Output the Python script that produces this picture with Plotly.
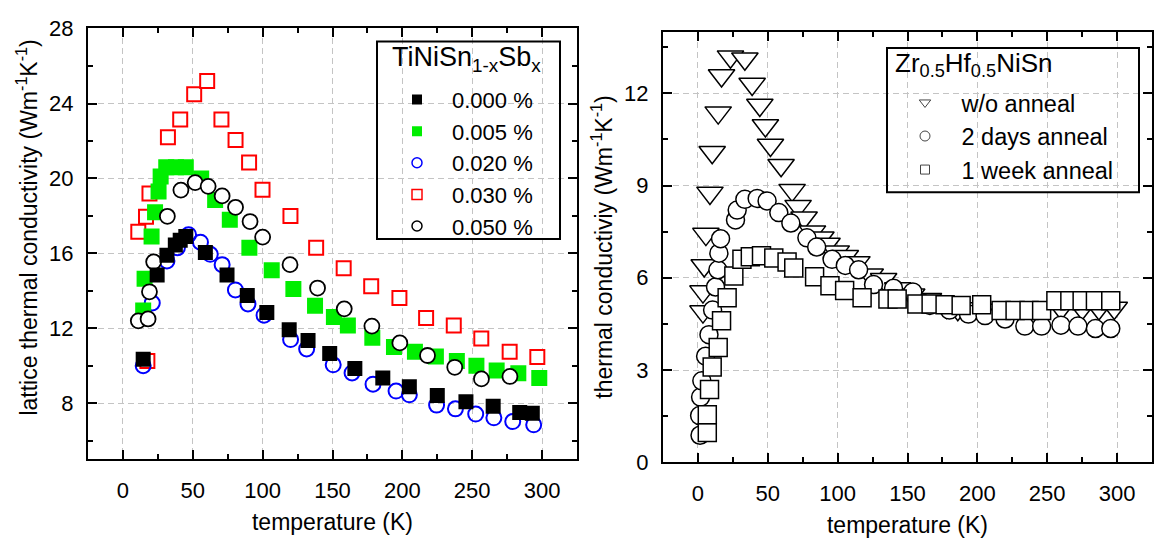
import plotly.graph_objects as go

# ---------------- data: left panel (TiNiSn1-xSbx) ----------------
T_000 = [14.5, 24.5, 31.5, 37.5, 41, 45, 59, 74.5, 89, 103, 119, 132.5, 148, 166, 186, 205, 225, 245.5, 265, 284, 293]
k_000 = [10.35, 14.85, 15.9, 16.45, 16.7, 16.9, 16.05, 14.85, 13.75, 12.85, 11.92, 11.35, 10.65, 9.86, 9.35, 8.88, 8.42, 8.08, 7.84, 7.5, 7.47]

T_005 = [14.5, 15.5, 20.5, 23, 25.5, 27, 31, 38, 45, 56, 66, 76.5, 90.5, 106.5, 122, 137.5, 151, 161, 178.5, 194, 209, 224, 239, 253, 267.5, 283, 298]
k_005 = [12.95, 14.65, 16.9, 18.2, 19.3, 20.1, 20.6, 20.6, 20.6, 20.0, 18.85, 17.8, 16.3, 15.1, 14.1, 13.2, 12.6, 12.15, 11.5, 11.0, 10.75, 10.5, 10.25, 10.0, 9.75, 9.6, 9.35]

T_020 = [14.5, 21, 31.5, 39, 47, 55.5, 62.5, 71, 80.5, 89.5, 101, 120, 131.5, 150.5, 164, 179, 195.5, 205, 224.5, 238, 252.5, 265.5, 279, 294]
k_020 = [10.0, 13.35, 15.6, 16.3, 17.0, 16.6, 15.95, 15.4, 14.05, 13.3, 12.7, 11.4, 10.9, 10.05, 9.62, 9.02, 8.65, 8.45, 7.9, 7.7, 7.42, 7.22, 7.02, 6.85]

T_030 = [11, 16.5, 17.5, 19, 32.2, 41, 51, 60.3, 70.5, 80.6, 90.3, 99.9, 119.9, 138.3, 158, 177.7, 197.9, 217, 236.8, 256.5, 276.8, 296.6]
k_030 = [17.15, 17.95, 10.25, 19.2, 22.2, 23.15, 24.5, 25.2, 23.15, 22.05, 20.85, 19.4, 18.0, 16.3, 15.2, 14.25, 13.62, 12.55, 12.15, 11.45, 10.75, 10.47]

T_050 = [11, 18, 19, 22, 31.8, 41.5, 51.7, 61, 71, 80.6, 91, 100, 119.6, 139.3, 158.4, 178.2, 198.2, 218, 237.5, 256.6, 277]
k_050 = [12.4, 12.5, 13.95, 15.55, 17.98, 19.38, 19.78, 19.58, 19.07, 18.46, 17.7, 16.87, 15.4, 14.15, 13.04, 12.12, 11.22, 10.55, 9.92, 9.3, 9.43]

left_labels = ["0.000 %", "0.005 %", "0.020 %", "0.030 %", "0.050 %"]
left_legend_title = "TiNiSn<sub>1-x</sub>Sb<sub>x</sub>"

# ---------------- data: right panel (Zr0.5Hf0.5NiSn) ----------------
T_wo = [3.6, 3.6, 4.5, 5.7, 8.6, 10.2, 14.5, 16.9, 23.3, 33.6, 38.8, 44.3, 48.3, 51.9, 59.5, 67.4, 71.7, 76, 82, 88,
        92.4, 99, 105.5, 113.8, 123.3, 132.9, 143, 153, 165, 178, 186, 200, 215, 230, 245, 260, 275, 287, 298]
k_wo = [4.9, 5.55, 6.4, 7.42, 8.76, 10.08, 11.37, 12.58, 13.19, 13.12, 12.3, 11.62, 10.95, 10.32, 9.66, 8.85, 8.33, 7.95, 7.5, 7.3,
        7.1, 6.85, 6.7, 6.5, 6.1, 5.95, 5.65, 5.45, 5.3, 5.05, 4.98, 5.0, 4.95, 4.95, 4.95, 5.0, 5.0, 5.0, 5.02]

T_2d = [1.5, 1.2, 1.9, 2.8, 5.5, 7.9, 10.5, 12.6, 14.3, 15, 16.2, 26.9, 28.1, 33.6, 42.4, 49.5, 57.9, 66.5, 78, 85,
        96, 105.5, 115, 125.7, 140, 153.8, 166, 180, 193.6, 205.5, 219.8, 234, 246, 259.8, 272, 284.5, 295.5]
k_2d = [0.88, 1.52, 2.12, 2.65, 3.45, 4.15, 4.95, 5.7, 6.26, 6.8, 7.27, 7.88, 8.2, 8.55, 8.58, 8.5, 8.12, 7.78, 7.3, 7.0,
        6.6, 6.4, 6.26, 5.78, 5.66, 5.54, 5.1, 4.95, 4.82, 4.77, 4.66, 4.43, 4.43, 4.46, 4.43, 4.35, 4.35]

T_1w = [6.7, 6.7, 8.3, 10.2, 14.5, 16.9, 20.9, 25.7, 31.5, 37.5, 45.5, 54.3, 63.8, 68.6, 83.5, 94.5, 105, 117.5, 136, 142.6,
        156.7, 166.9, 176.9, 188.4, 203.1, 217, 227, 237, 246, 256.2, 266.2, 275, 284.5, 295.5]
k_1w = [0.97, 1.55, 2.37, 3.1, 3.73, 4.6, 5.35, 6.06, 6.6, 6.68, 6.72, 6.64, 6.51, 6.32, 6.03, 5.74, 5.59, 5.35, 5.31, 5.31,
        5.15, 5.15, 5.12, 5.1, 5.12, 4.94, 4.94, 4.94, 4.94, 5.25, 5.25, 5.25, 5.25, 5.25]

right_labels = ["w/o anneal", "2 days anneal", "1 week anneal"]
right_legend_title = "Zr<sub>0.5</sub>Hf<sub>0.5</sub>NiSn"

FONT = "Liberation Sans, Arial, sans-serif"
W, H = 1154, 544

fig = go.Figure()

def add(x, y, name, symbol, size, fill, line_color, line_w, xa, ya, legend, lsize):
    fig.add_trace(go.Scatter(x=x, y=y, mode="markers", name=name, showlegend=False,
                             marker=dict(symbol=symbol, size=size, color=fill,
                                         line=dict(color=line_color, width=line_w)),
                             xaxis=xa, yaxis=ya))
    return (name, symbol, lsize, fill, line_color, line_w, xa, ya, legend)

# left panel, drawing order chosen to match overlaps
leg_red = add(T_030, k_030, left_labels[3], "square", 14, "white", "#ff0000", 2, "x", "y", "legend", 10)
leg_blue = add(T_020, k_020, left_labels[2], "circle", 15, "rgba(0,0,0,0)", "#0000ff", 2, "x", "y", "legend", 10)
leg_green = add(T_005, k_005, left_labels[1], "square", 16, "#00ee00", "#00ee00", 0, "x", "y", "legend", 10)
leg_bc = add(T_050, k_050, left_labels[4], "circle", 15, "white", "black", 1.8, "x", "y", "legend", 10)
leg_bs = add(T_000, k_000, left_labels[0], "square", 15, "black", "black", 0, "x", "y", "legend", 10)
leg_items = [leg_bs, leg_green, leg_blue, leg_red, leg_bc]

# right panel
r1 = add(T_wo, k_wo, right_labels[0], "triangle-down", 23, "white", "black", 1.5, "x2", "y2", "legend2", 10)
r2 = add(T_2d, k_2d, right_labels[1], "circle", 18, "white", "black", 1.5, "x2", "y2", "legend2", 10)
r3 = add(T_1w, k_1w, right_labels[2], "square", 18, "white", "black", 1.5, "x2", "y2", "legend2", 9)
leg_items += [r1, r2, r3]

# legend-only entries with small symbols
for (name, symbol, lsize, fill, lc, lw, xa, ya, legend) in leg_items:
    if legend == "legend2":
        lc2, lw2 = "#444444", 1
    else:
        lc2, lw2 = lc, min(lw, 1.5)
    fig.add_trace(go.Scatter(x=[None], y=[None], mode="markers", name=name, legend=legend,
                             marker=dict(symbol=symbol, size=lsize, color=fill,
                                         line=dict(color=lc2, width=lw2)),
                             xaxis=xa, yaxis=ya))

grid = dict(showgrid=True, gridcolor="#c4c4c4", gridwidth=1, griddash="6px,4px",
            zeroline=False, showline=True, linecolor="black", linewidth=2, mirror="allticks",
            ticks="inside", ticklen=9, tickwidth=2, tickcolor="black",
            tickfont=dict(family=FONT, size=22, color="black"))


def px_x(p):
    return p / W


def px_y(p):
    return 1 - p / H


def minor(d):
    return dict(ticks="inside", ticklen=5, tickwidth=2, tickcolor="black", dtick=d, tick0=0, showgrid=False)


TITLE_FONT = dict(family=FONT, size=23, color="black")

fig.update_layout(
    width=W, height=H, margin=dict(l=0, r=0, t=0, b=0),
    plot_bgcolor="white", paper_bgcolor="white",
    font=dict(family=FONT, color="black"),
    xaxis=dict(domain=[px_x(88), px_x(577)], range=[-25, 325], tick0=0, dtick=50, minor=minor(25),
               title=dict(text="temperature (K)", font=TITLE_FONT, standoff=12),
               ticklabelstandoff=10, anchor="y", **grid),
    yaxis=dict(domain=[px_y(469), px_y(17)], range=[5, 28.02], tick0=0, dtick=4, minor=minor(2),
               ticklabelstandoff=8, anchor="x", **grid),
    xaxis2=dict(domain=[px_x(663), px_x(1152)], range=[-25, 325], tick0=0, dtick=50, minor=minor(25),
                title=dict(text="temperature (K)", font=TITLE_FONT, standoff=12),
                ticklabelstandoff=10, anchor="y2", **grid),
    yaxis2=dict(domain=[px_y(472), px_y(20.7)], range=[0, 14], tick0=0, dtick=3, minor=minor(1.5),
                title=dict(text="thermal conductiviy (Wm<sup>-1</sup>K<sup>-1</sup>)", font=TITLE_FONT, standoff=5),
                ticklabelstandoff=8, anchor="x2", **grid),
    legend=dict(x=px_x(382), y=px_y(70), xanchor="left", yanchor="top",
                bgcolor="rgba(0,0,0,0)", borderwidth=0,
                font=dict(family=FONT, size=22, color="black"),
                tracegroupgap=0, itemwidth=60),
    legend2=dict(x=px_x(888.5), y=px_y(72), xanchor="left", yanchor="top",
                 bgcolor="rgba(0,0,0,0)", borderwidth=0,
                 font=dict(family=FONT, size=23.5, color="black"),
                 tracegroupgap=0, itemwidth=63),
    annotations=[
        dict(text="lattice thermal conductivity (Wm<sup>-1</sup>K<sup>-1</sup>)", textangle=-90,
             xref="paper", yref="paper", x=px_x(27), y=px_y(226), xanchor="center", yanchor="middle",
             showarrow=False, font=TITLE_FONT),
        dict(text=left_legend_title, xref="paper", yref="paper", x=px_x(390), y=px_y(49),
             xanchor="left", yanchor="middle", showarrow=False, font=dict(family=FONT, size=27, color="black")),
        dict(text=right_legend_title, xref="paper", yref="paper", x=px_x(893), y=px_y(55),
             xanchor="left", yanchor="middle", showarrow=False, font=dict(family=FONT, size=26, color="black")),
    ],
    shapes=[
        dict(type="rect", xref="paper", yref="paper", x0=px_x(377), x1=px_x(560), y0=px_y(238), y1=px_y(31),
             line=dict(color="black", width=2), fillcolor="rgba(0,0,0,0)", layer="above"),
        dict(type="rect", xref="paper", yref="paper", x0=px_x(887), x1=px_x(1139), y0=px_y(189), y1=px_y(37.7),
             line=dict(color="black", width=2), fillcolor="rgba(0,0,0,0)", layer="above"),
    ],
)

fig.write_html("out.html")
